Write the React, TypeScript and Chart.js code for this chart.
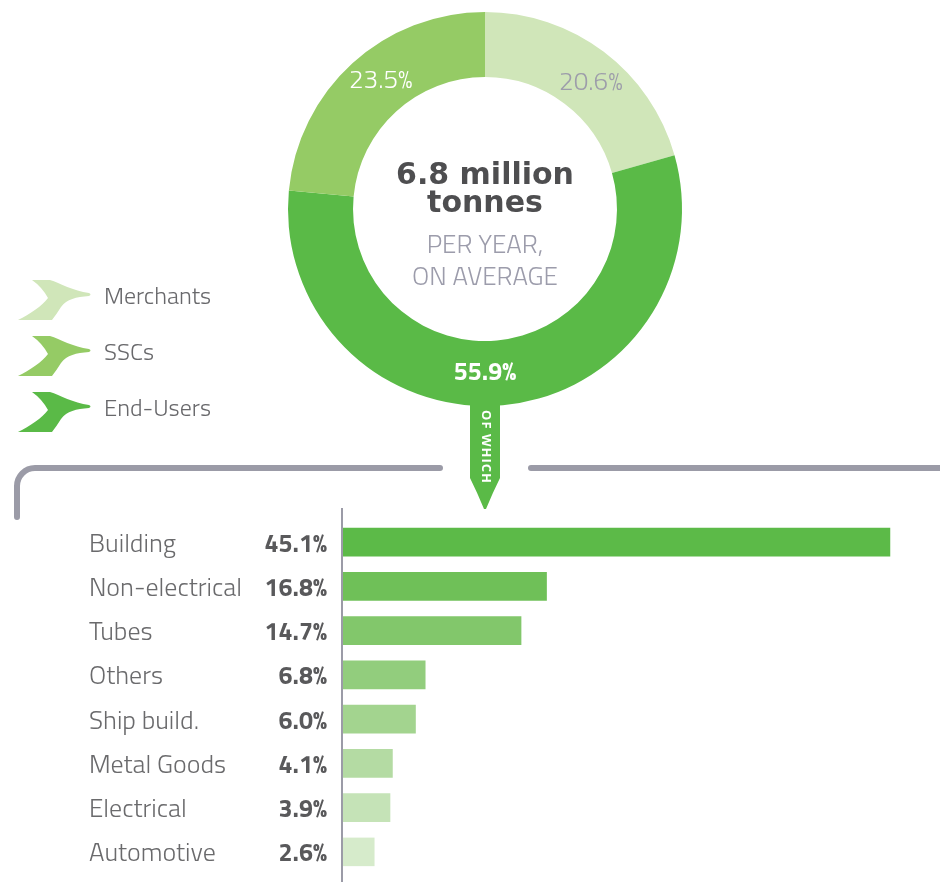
import React, { useEffect, useRef } from 'react';
import { Chart, registerables } from 'chart.js';

Chart.register(...registerables);

// ---- data ----
const shareLabels = ['Merchants', 'End-Users', 'SSCs'];
const shareValues = [20.6, 55.9, 23.5];
const shareColors = ['#d0e6b9', '#5aba47', '#95cb65'];
const shareLabelColors = ['#9d9daa', '#ffffff', '#ffffff'];
const legendOrder = ['Merchants', 'SSCs', 'End-Users'];

const sectorLabels = ['Building', 'Non-electrical', 'Tubes', 'Others', 'Ship build.', 'Metal Goods', 'Electrical', 'Automotive'];
const sectorValues = [45.1, 16.8, 14.7, 6.8, 6.0, 4.1, 3.9, 2.6];
const sectorColors = ['#5cba48', '#6fc058', '#82c76b', '#92cd7d', '#a3d48f', '#b4dba3', '#c5e3b7', '#d6ebcb'];

const centerTitle = ['6.8 million', 'tonnes'];
const centerSub = ['PER YEAR,', 'ON AVERAGE'];
const connectorText = 'OF WHICH';

const FAMILY = '"Titillium Web", Roboto, "Open Sans", sans-serif';
const TITLE_FAMILY = '"DejaVu Sans", "Open Sans", sans-serif';
const STEM_FAMILY = '"Open Sans", Roboto, sans-serif';
const GRAY_LINE = '#9b9ba7';

function drawChevron(ctx: CanvasRenderingContext2D, x: number, y: number, color: string) {
  ctx.save();
  ctx.translate(x, y);
  ctx.fillStyle = color;
  ctx.beginPath();
  ctx.moveTo(14, 1);
  ctx.lineTo(32, 1);
  ctx.bezierCurveTo(42, 4, 55, 12, 71, 14);
  ctx.quadraticCurveTo(74, 15.5, 71, 17);
  ctx.bezierCurveTo(58, 18, 49, 20, 43, 28);
  ctx.quadraticCurveTo(38, 36, 34, 41);
  ctx.lineTo(0, 41);
  ctx.bezierCurveTo(12, 35, 24, 27, 30, 19);
  ctx.quadraticCurveTo(24, 8, 14, 1);
  ctx.closePath();
  ctx.fill();
  ctx.restore();
}

const donutDecor = {
  id: 'donutDecor',
  afterDraw(chart: any) {
    const ctx: CanvasRenderingContext2D = chart.ctx;
    const meta = chart.getDatasetMeta(0);
    const arcs = meta.data as any[];
    const cx = arcs[0].x;
    const cy = arcs[0].y;
    const outer = arcs[0].outerRadius;
    const inner = arcs[0].innerRadius;
    const midR = (outer + inner) / 2;
    ctx.save();
    // arc labels
    ctx.textAlign = 'center';
    ctx.textBaseline = 'middle';
    const maxV = Math.max(...shareValues);
    arcs.forEach((a, i) => {
      const v = shareValues[i];
      const isMax = v === maxV;
      const ang = isMax ? Math.PI / 2 : (a.startAngle + a.endAngle) / 2 + (3 * Math.PI) / 180;
      const lx = cx + Math.cos(ang) * midR;
      const ly = cy + Math.sin(ang) * midR;
      ctx.font = isMax ? `700 25px ${FAMILY}` : `300 26px ${FAMILY}`;
      ctx.fillStyle = shareLabelColors[i];
      ctx.fillText(`${v.toFixed(1)}%`, lx, ly);
    });
    // centre text
    ctx.textBaseline = 'alphabetic';
    ctx.fillStyle = '#4e4e50';
    ctx.font = `700 30px ${TITLE_FAMILY}`;
    ctx.fillText(centerTitle[0], cx, cy - 25);
    ctx.fillText(centerTitle[1], cx, cy + 3);
    ctx.fillStyle = '#9c9cab';
    ctx.font = `300 26px ${FAMILY}`;
    ctx.fillText(centerSub[0], cx, cy + 44);
    ctx.fillText(centerSub[1], cx, cy + 76);

    // connector lines
    const lineY = 468;
    ctx.strokeStyle = GRAY_LINE;
    ctx.lineWidth = 6;
    ctx.lineCap = 'round';
    ctx.beginPath();
    ctx.moveTo(cx - 45, lineY);
    ctx.lineTo(36, lineY);
    ctx.arcTo(17, lineY, 17, lineY + 20, 18);
    ctx.lineTo(17, 517);
    ctx.stroke();
    ctx.beginPath();
    ctx.moveTo(cx + 46, lineY);
    ctx.lineTo(960, lineY);
    ctx.stroke();

    // stem arrow
    ctx.fillStyle = shareColors[1];
    ctx.beginPath();
    ctx.moveTo(cx - 15, cy + outer - 12);
    ctx.lineTo(cx + 15, cy + outer - 12);
    ctx.lineTo(cx + 15, 478);
    ctx.quadraticCurveTo(cx + 8, 492, cx + 1, 509);
    ctx.lineTo(cx - 1, 509);
    ctx.quadraticCurveTo(cx - 8, 492, cx - 15, 478);
    ctx.closePath();
    ctx.fill();
    ctx.save();
    ctx.translate(cx + 1, 447);
    ctx.rotate(Math.PI / 2);
    ctx.fillStyle = '#ffffff';
    ctx.font = `700 13px ${STEM_FAMILY}`;
    (ctx as any).letterSpacing = '1px';
    ctx.textAlign = 'center';
    ctx.textBaseline = 'middle';
    ctx.fillText(connectorText, 0, 0);
    ctx.restore();

    // legend
    legendOrder.forEach((name, i) => {
      const idx = shareLabels.indexOf(name);
      const y0 = 279 + i * 56;
      drawChevron(ctx, 18, y0, shareColors[idx]);
      ctx.font = `300 24px ${FAMILY}`;
      ctx.fillStyle = '#68686b';
      ctx.textAlign = 'left';
      ctx.textBaseline = 'alphabetic';
      ctx.fillText(name, 104, y0 + 25);
    });
    ctx.restore();
  },
};

const barDecor = {
  id: 'barDecor',
  afterDraw(chart: any) {
    const ctx: CanvasRenderingContext2D = chart.ctx;
    const area = chart.chartArea;
    const yScale = chart.scales.y;
    ctx.save();
    ctx.strokeStyle = GRAY_LINE;
    ctx.lineWidth = 2;
    ctx.beginPath();
    ctx.moveTo(area.left - 1, 3);
    ctx.lineTo(area.left - 1, chart.height);
    ctx.stroke();
    ctx.textBaseline = 'alphabetic';
    sectorLabels.forEach((name, i) => {
      const y = yScale.getPixelForValue(i);
      ctx.textAlign = 'left';
      ctx.font = `300 26px ${FAMILY}`;
      ctx.fillStyle = '#6a6a6c';
      ctx.fillText(name, 89, y + 9.5);
      ctx.textAlign = 'right';
      ctx.font = `700 25px ${FAMILY}`;
      ctx.fillStyle = '#59595b';
      ctx.fillText(`${sectorValues[i].toFixed(1)}%`, area.left - 16, y + 9.5);
    });
    ctx.restore();
  },
};

export default function App() {
  const donutRef = useRef<HTMLCanvasElement>(null);
  const barRef = useRef<HTMLCanvasElement>(null);

  useEffect(() => {
    document.body.style.margin = '0';
    const donut = new Chart(donutRef.current!, {
      type: 'doughnut',
      data: {
        labels: shareLabels,
        datasets: [{ data: shareValues, backgroundColor: shareColors, borderWidth: 0 }],
      },
      options: {
        responsive: false,
        animation: false,
        cutout: '67%',
        layout: { padding: { left: 288, right: 258, top: 12, bottom: 114 } },
        plugins: { legend: { display: false }, tooltip: { enabled: false } },
      },
      plugins: [donutDecor],
    });
    const bars = new Chart(barRef.current!, {
      type: 'bar',
      data: {
        labels: sectorLabels,
        datasets: [{
          data: sectorValues,
          backgroundColor: sectorColors,
          borderWidth: 0,
          barPercentage: 0.645,
          categoryPercentage: 1,
        }],
      },
      options: {
        indexAxis: 'y',
        responsive: false,
        animation: false,
        layout: { padding: { left: 343, right: 0, top: 15, bottom: 8 } },
        scales: {
          x: { display: false, min: 0, max: 49.2 },
          y: { display: false },
        },
        plugins: { legend: { display: false }, tooltip: { enabled: false } },
      },
      plugins: [barDecor],
    });
    return () => {
      donut.destroy();
      bars.destroy();
    };
  }, []);

  return (
    <div style={{ position: 'relative', width: 940, height: 882, background: '#ffffff', overflow: 'hidden' }}>
      <canvas ref={donutRef} width={940} height={520} style={{ position: 'absolute', left: 0, top: 0 }} />
      <canvas ref={barRef} width={940} height={377} style={{ position: 'absolute', left: 0, top: 505 }} />
    </div>
  );
}
